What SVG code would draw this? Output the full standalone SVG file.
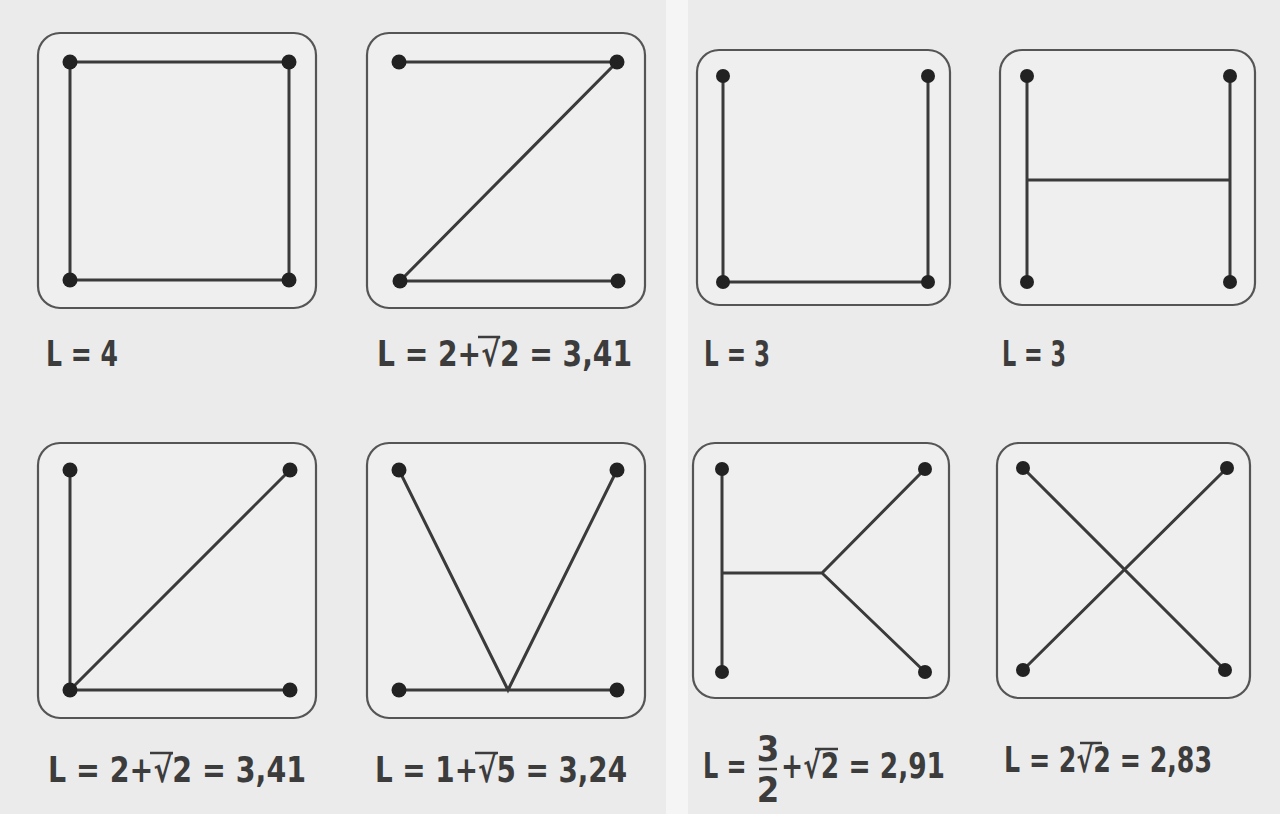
<svg xmlns="http://www.w3.org/2000/svg" width="1280" height="814" viewBox="0 0 1280 814">
<style>
.box{fill:#efefef;stroke:#555;stroke-width:2.2}
.edge{stroke:#3a3a3a;stroke-width:3;stroke-linecap:round;fill:none}
.dot{fill:#222}
.lbl{font-family:"DejaVu Sans Condensed","Liberation Sans",sans-serif;font-weight:bold;font-size:36px;fill:#3c3c3c}
.ov{stroke:#3c3c3c;stroke-width:2.5}
</style>
<rect width="1280" height="814" fill="#ebebeb"/>
<rect x="666" y="0" width="22" height="814" fill="#f5f5f5"/>

<g id="panel1">
<rect class="box" x="38" y="33" width="278" height="275" rx="22"/>
<g class="connectors">
<path class="edge" d="M70 62 H289 V280 H70 Z"/>
</g>
<circle class="dot" cx="70" cy="62" r="7.5"/><circle class="dot" cx="289" cy="62" r="7.5"/>
<circle class="dot" cx="70" cy="280" r="7.5"/><circle class="dot" cx="289" cy="280" r="7.5"/>
<text class="lbl" x="46" y="366" textLength="72" lengthAdjust="spacingAndGlyphs">L = 4</text>
</g>

<g id="panel2">
<rect class="box" x="367" y="33" width="278" height="275" rx="22"/>
<g class="connectors">
<path class="edge" d="M399 62 H617 L400 281 H618"/>
</g>
<circle class="dot" cx="399" cy="62" r="7.5"/><circle class="dot" cx="617" cy="62" r="7.5"/>
<circle class="dot" cx="400" cy="281" r="7.5"/><circle class="dot" cx="618" cy="281" r="7.5"/>
<text class="lbl" x="377" y="366" textLength="255" lengthAdjust="spacingAndGlyphs">L = 2+√2 = 3,41</text>
<line class="ov" x1="478" y1="337" x2="500" y2="337"/>
</g>

<g id="panel3">
<rect class="box" x="697" y="50" width="253" height="255" rx="22"/>
<g class="connectors">
<path class="edge" d="M723 76 V282 H928 V76"/>
</g>
<circle class="dot" cx="723" cy="76" r="7"/><circle class="dot" cx="928" cy="76" r="7"/>
<circle class="dot" cx="723" cy="282" r="7"/><circle class="dot" cx="928" cy="282" r="7"/>
<text class="lbl" x="704" y="366" textLength="66" lengthAdjust="spacingAndGlyphs">L = 3</text>
</g>

<g id="panel4">
<rect class="box" x="1000" y="50" width="255" height="255" rx="22"/>
<g class="connectors">
<path class="edge" d="M1027 76 V282 M1230 76 V282 M1027 180 H1230"/>
</g>
<circle class="dot" cx="1027" cy="76" r="7"/><circle class="dot" cx="1230" cy="76" r="7"/>
<circle class="dot" cx="1027" cy="282" r="7"/><circle class="dot" cx="1230" cy="282" r="7"/>
<text class="lbl" x="1002" y="366" textLength="64" lengthAdjust="spacingAndGlyphs">L = 3</text>
</g>

<g id="panel5">
<rect class="box" x="38" y="443" width="278" height="275" rx="22"/>
<g class="connectors">
<path class="edge" d="M70 470 V690 H290 M70 690 L290 470"/>
</g>
<circle class="dot" cx="70" cy="470" r="7.5"/><circle class="dot" cx="290" cy="470" r="7.5"/>
<circle class="dot" cx="70" cy="690" r="7.5"/><circle class="dot" cx="290" cy="690" r="7.5"/>
<text class="lbl" x="48" y="782" textLength="258" lengthAdjust="spacingAndGlyphs">L = 2+√2 = 3,41</text>
<line class="ov" x1="150" y1="753" x2="173" y2="753"/>
</g>

<g id="panel6">
<rect class="box" x="367" y="443" width="278" height="275" rx="22"/>
<g class="connectors">
<path class="edge" d="M399 690 H617 M399 470 L508 690 L617 470"/>
</g>
<circle class="dot" cx="399" cy="470" r="7.5"/><circle class="dot" cx="617" cy="470" r="7.5"/>
<circle class="dot" cx="399" cy="690" r="7.5"/><circle class="dot" cx="617" cy="690" r="7.5"/>
<text class="lbl" x="375" y="782" textLength="252" lengthAdjust="spacingAndGlyphs">L = 1+√5 = 3,24</text>
<line class="ov" x1="475" y1="753" x2="498" y2="753"/>
</g>

<g id="panel7">
<rect class="box" x="693" y="443" width="256" height="255" rx="22"/>
<g class="connectors">
<path class="edge" d="M722 469 V672 M722 573 H822 L925 469 M822 573 L925 672"/>
</g>
<circle class="dot" cx="722" cy="469" r="7"/><circle class="dot" cx="925" cy="469" r="7"/>
<circle class="dot" cx="722" cy="672" r="7"/><circle class="dot" cx="925" cy="672" r="7"/>
<text class="lbl" transform="translate(703,778) scale(0.74,1)">L =</text>
<text class="lbl" x="768" y="761" text-anchor="middle" font-size="27">3</text>
<line class="ov" x1="759" y1="769" x2="777" y2="769"/>
<text class="lbl" x="768" y="802" text-anchor="middle" font-size="27">2</text>
<text class="lbl" x="781" y="778" textLength="164" lengthAdjust="spacingAndGlyphs">+√2 = 2,91</text>
<line class="ov" x1="815" y1="749" x2="838" y2="749"/>
</g>

<g id="panel8">
<rect class="box" x="997" y="443" width="253" height="255" rx="22"/>
<g class="connectors">
<path class="edge" d="M1023 468 L1225 670 M1227 468 L1023 670"/>
</g>
<circle class="dot" cx="1023" cy="468" r="7"/><circle class="dot" cx="1227" cy="468" r="7"/>
<circle class="dot" cx="1023" cy="670" r="7"/><circle class="dot" cx="1225" cy="670" r="7"/>
<text class="lbl" x="1004" y="772" textLength="208" lengthAdjust="spacingAndGlyphs">L = 2√2 = 2,83</text>
<line class="ov" x1="1080" y1="743" x2="1102" y2="743"/>
</g>
</svg>
